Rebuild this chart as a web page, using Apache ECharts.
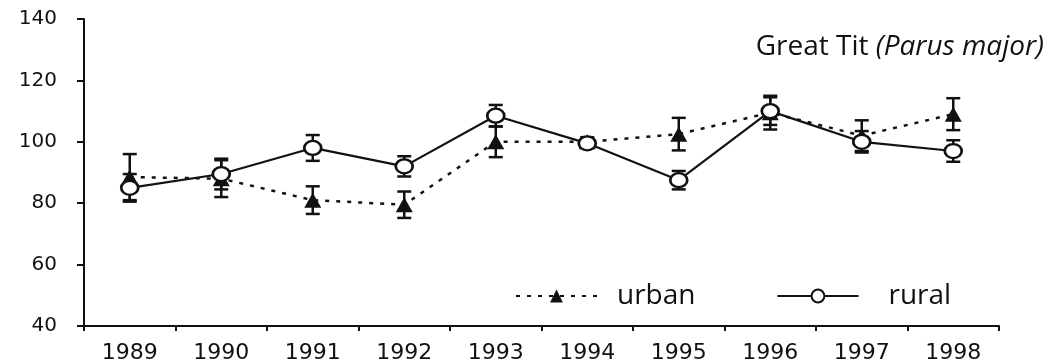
<!DOCTYPE html>
<html>
<head>
<meta charset="utf-8">
<script src="https://cdn.jsdelivr.net/npm/echarts@6/dist/echarts.min.js"></script>
<style>
html,body{margin:0;padding:0;background:#fff;}
#c{width:1049px;height:362px;}
</style>
</head>
<body>
<div id="c"></div>
<script>
const years = ['1989','1990','1991','1992','1993','1994','1995','1996','1997','1998'];
const urban = [88.5, 88, 81, 79.5, 100, 100, 102.5, 109.5, 102, 109];
const urbanErr = [7.5, 6, 4.5, 4.3, 5, 1.5, 5.3, 5.5, 5, 5.2];
const rural = [85, 89.5, 98, 92, 108.5, 99.5, 87.5, 110, 100, 97];
const ruralErr = [4.5, 5, 4.2, 3.3, 3.5, 1.5, 3, 4.5, 3.5, 3.5];
const yTicks = [40, 60, 80, 100, 120, 140];

const chart = echarts.init(document.getElementById('c'), null, {renderer:'canvas'});

function errRender(params, api) {
  const i = api.value(0), v = api.value(1), e = api.value(2);
  const top = api.coord([i, v + e]);
  const bot = api.coord([i, v - e]);
  const hw = 7;
  const st = {stroke:'#111', lineWidth:2.5};
  return {type:'group', children:[
    {type:'line', shape:{x1:top[0], y1:top[1], x2:bot[0], y2:bot[1]}, style:st},
    {type:'line', shape:{x1:top[0]-hw, y1:top[1], x2:top[0]+hw, y2:top[1]}, style:st},
    {type:'line', shape:{x1:bot[0]-hw, y1:bot[1], x2:bot[0]+hw, y2:bot[1]}, style:st}
  ]};
}

const option = {
  animation:false,
  backgroundColor:'#fff',
  title:{
    text:'{n|Great Tit }{i|(Parus major)}',
    right:5, top:33, padding:0,
    textStyle:{
      fontWeight:'normal',
      rich:{
        n:{fontFamily:'Open Sans', fontSize:28, fontWeight:'normal', color:'#111', lineHeight:28},
        i:{fontFamily:'Open Sans', fontSize:28, fontWeight:'normal', fontStyle:'italic', color:'#111', lineHeight:28}
      }
    }
  },
  legend:{
    data:[
      {name:'urban', textStyle:{padding:[8,0,0,15]}},
      {name:'rural', textStyle:{padding:[8,0,0,25]}}
    ],
    left:515, top:277, padding:0,
    itemWidth:81, itemHeight:16, itemGap:81,
    textStyle:{fontFamily:'Open Sans', fontSize:28, color:'#111', lineHeight:30}
  },
  grid:{left:84, right:50, top:19, bottom:36, containLabel:false, outerBoundsMode:'none'},
  xAxis:{
    type:'category', data:years, boundaryGap:true,
    axisLine:{lineStyle:{color:'#111', width:2}},
    axisTick:{show:true, length:5, lineStyle:{color:'#111', width:2}},
    axisLabel:{fontFamily:'DejaVu Sans', fontSize:22, color:'#111', margin:16}
  },
  yAxis:{
    type:'value', min:yTicks[0], max:yTicks[yTicks.length-1], interval:20,
    splitLine:{show:false},
    axisLine:{show:true, lineStyle:{color:'#111', width:2}},
    axisTick:{show:true, length:7, lineStyle:{color:'#111', width:2}},
    axisLabel:{fontFamily:'DejaVu Sans', fontSize:20, color:'#111', margin:27}
  },
  series:[
    {type:'custom', name:'urbanErr', renderItem:errRender, z:1,
     data:years.map((y,i)=>[i, urban[i], urbanErr[i]]), encode:{x:0,y:1}, silent:true},
    {type:'custom', name:'ruralErr', renderItem:errRender, z:1,
     data:years.map((y,i)=>[i, rural[i], ruralErr[i]]), encode:{x:0,y:1}, silent:true},
    {type:'line', name:'urban', data:urban, z:3,
     symbol:'triangle', symbolSize:[17,15], showAllSymbol:true,
     lineStyle:{color:'#111', width:2.5, type:[4,7]},
     itemStyle:{color:'#111', borderColor:'#111', borderWidth:0}},
    {type:'line', name:'rural', data:rural, z:4,
     symbol:'circle', symbolSize:[17,14], showAllSymbol:true,
     lineStyle:{color:'#111', width:2.2, type:'solid'},
     itemStyle:{color:'#fff', borderColor:'#111', borderWidth:2.5}}
  ]
};
chart.setOption(option);
</script>
</body>
</html>
